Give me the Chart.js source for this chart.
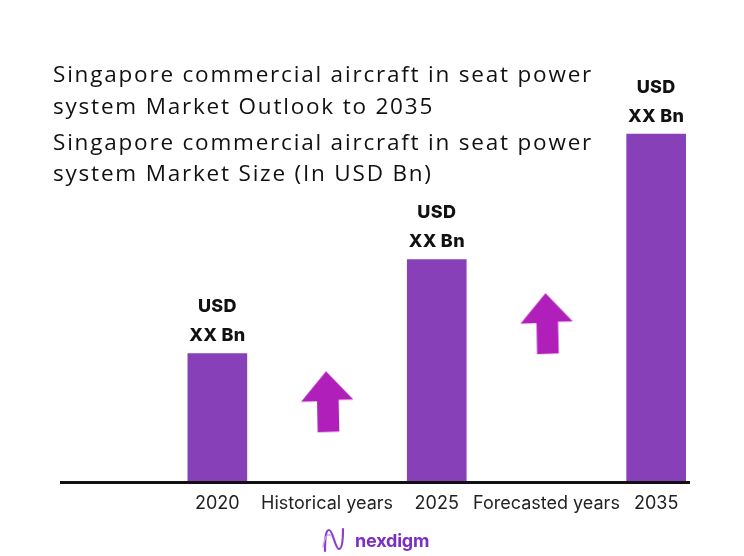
<!DOCTYPE html>
<html>
<head>
<meta charset="utf-8">
<script src="https://cdn.jsdelivr.net/npm/chart.js@4.4.1/dist/chart.umd.min.js"></script>
<style>
  html, body { margin: 0; padding: 0; background: #fff; }
  #wrap { position: relative; width: 744px; height: 556px; overflow: hidden; }
  #myChart { position: absolute; left: 0; top: 0; }
  .title { position: absolute; left: 53px; font-family: "Open Sans", sans-serif; font-size: 22.5px; letter-spacing: 1.8px; color: #111; white-space: nowrap; line-height: 1; }
  #logo { position: absolute; left: 322px; top: 527px; height: 26px; display: flex; align-items: center; }
  #logo span { font-family: "Inter", sans-serif; font-weight: 700; font-size: 18px; color: #7b2fc0; margin-left: 9px; letter-spacing: -0.2px; }
</style>
</head>
<body>
<div id="wrap">
  <canvas id="myChart" width="744" height="556"></canvas>
  <div class="title" style="top:63px">Singapore commercial aircraft in seat power</div>
  <div class="title" style="top:95px">system Market Outlook to 2035</div>
  <div class="title" style="top:131px">Singapore commercial aircraft in seat power</div>
  <div class="title" style="top:162px">system Market Size (In USD Bn)</div>
  <div id="logo">
    <svg width="24" height="26" viewBox="0 0 24 26">
      <path d="M3 24 C3 10, 4 3, 7 3 C11 3, 13 22, 17 22 C20 22, 21 15, 21 2" fill="none" stroke="#8a3fd0" stroke-width="2.2" stroke-linecap="round"/>
      <path d="M1 20 C3 8, 6 6, 9 9" fill="none" stroke="#c9a6ef" stroke-width="1.4" stroke-linecap="round"/>
    </svg>
    <span>nexdigm</span>
  </div>
</div>
<script>
// categories along the axis
const categories = ['2020', 'Historical years', '2025', 'Forecasted years', '2035'];
// market size bars (relative heights, values shown as "XX")
const marketSize = [12.7, null, 22.1, null, 34.6];
// growth arrows between the bars
const growthArrows = [null, 7.9, null, 15.7, null];
const valueLabels = ['USD', 'XX Bn'];

const barColor = '#8740b8';
const arrowColor = '#b01fba';

// arrow drawn once and used as the point style
function makeArrow() {
    let c = document.createElement('canvas');
    c.width = 54;
    c.height = 63;
    let g = c.getContext('2d');
    g.fillStyle = arrowColor;
    g.beginPath();
    g.moveTo(26, 1);
    g.lineTo(53.3, 29.3);
    g.lineTo(38.6, 29.6);
    g.lineTo(39.3, 61.3);
    g.lineTo(17.6, 62);
    g.lineTo(17, 31);
    g.lineTo(1, 31.6);
    g.closePath();
    g.fill();
    return c;
}

const extras = {
    id: 'extras',
    afterDatasetsDraw(chart) {
        let ctx = chart.ctx;
        let area = chart.chartArea;
        ctx.save();
        // baseline
        ctx.strokeStyle = '#111';
        ctx.lineWidth = 3;
        ctx.beginPath();
        ctx.moveTo(60, area.bottom + 1.5);
        ctx.lineTo(690, area.bottom + 1.5);
        ctx.stroke();
        // value labels above bars
        ctx.fillStyle = '#111';
        ctx.font = '800 18px Inter';
        ctx.letterSpacing = '0.3px';
        ctx.textAlign = 'center';
        ctx.textBaseline = 'middle';
        chart.getDatasetMeta(0).data.forEach((bar, i) => {
            if (marketSize[i] == null) return;
            ctx.fillText(valueLabels[0], bar.x, bar.y - 47);
            ctx.fillText(valueLabels[1], bar.x, bar.y - 18);
        });
        ctx.restore();
    }
};

let ctx = document.getElementById('myChart').getContext('2d');
let chart = new Chart(ctx, {
    type: 'bar',
    data: {
        labels: categories,
        datasets: [{
            label: 'Market size',
            data: marketSize,
            backgroundColor: barColor,
            barThickness: 59,
            order: 2
        }, {
            type: 'line',
            label: 'Growth',
            data: growthArrows,
            showLine: false,
            pointStyle: makeArrow(),
            order: 1
        }]
    },
    options: {
        responsive: false,
        animation: false,
        layout: {
            padding: { left: 162.5, right: 33, top: 60, bottom: 29.4 }
        },
        plugins: {
            legend: { display: false },
            tooltip: { enabled: false }
        },
        scales: {
            x: {
                grid: { display: false, drawTicks: false },
                border: { display: false },
                ticks: {
                    color: '#222',
                    padding: 12,
                    maxRotation: 0,
                    autoSkip: false,
                    font: { family: 'Inter', size: 18 }
                }
            },
            y: {
                display: false,
                min: 0,
                max: 42
            }
        }
    },
    plugins: [extras]
});
</script>
</body>
</html>
